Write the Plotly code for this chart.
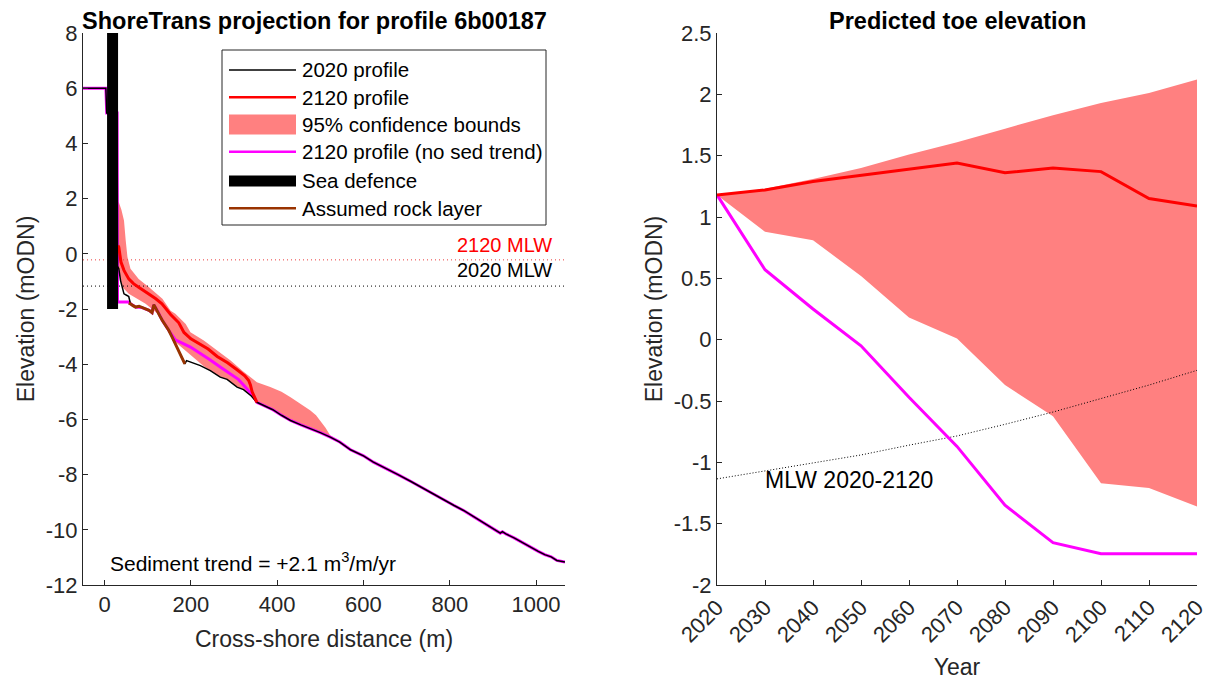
import plotly.graph_objects as go

# ---------------- Left panel data (cross-shore distance m, elevation mODN) ----------------
profile2020_x = [-50, -20, 0, 3, 5, 15, 29, 30, 33, 37, 42, 45, 52, 56, 60, 66, 72, 80, 87, 95, 103, 110,
                 114, 118, 122, 128, 134, 142, 149, 156, 164, 172, 180, 186, 190, 200, 207, 222, 245, 268,
                 284, 307, 322, 340, 353, 370, 390, 410, 431, 455, 480, 500, 523, 545, 570, 600, 623, 650,
                 680, 710, 739, 765, 790, 810, 832, 855, 875, 900, 917, 922, 930, 950, 970, 986, 1005,
                 1020, 1035, 1048, 1060, 1067]
profile2020_z = [6.0, 6.0, 6.0, 6.0, 5.1, 5.1, 5.1, -0.45, -0.54, -0.97, -1.3, -1.45, -1.51, -1.55, -1.81,
                 -1.88, -1.93, -1.9, -1.95, -2.0, -2.05, -2.13, -1.85, -1.95, -2.05, -2.25, -2.42, -2.6,
                 -2.78, -3.0, -3.25, -3.5, -3.78, -3.99, -3.87, -3.92, -3.96, -4.05, -4.23, -4.47, -4.55,
                 -4.83, -4.92, -5.15, -5.38, -5.5, -5.65, -5.85, -6.04, -6.2, -6.35, -6.48, -6.64, -6.82,
                 -7.1, -7.32, -7.55, -7.75, -8.0, -8.25, -8.51, -8.72, -8.95, -9.12, -9.3, -9.52, -9.7,
                 -9.95, -10.12, -10.07, -10.15, -10.3, -10.48, -10.63, -10.78, -10.9, -10.98, -11.11,
                 -11.15, -11.17]

profile2120_x = [31, 33, 38, 45, 56, 67, 79, 91, 103, 118, 133, 153, 172, 184, 200, 215, 240, 261, 285,
                 307, 325, 334, 338, 342, 348, 353]
profile2120_z = [0.3, 0.24, -0.3, -0.6, -0.91, -1.08, -1.21, -1.33, -1.45, -1.62, -1.81, -2.2, -2.5,
                 -2.85, -3.08, -3.22, -3.45, -3.72, -3.95, -4.2, -4.42, -4.59, -4.75, -5.0, -5.2, -5.38]

nosed_x = [-50, -20, 0, 3, 5, 15, 29, 30, 56, 60, 72, 87, 103, 110, 114, 122, 134, 149, 156, 164, 199,
           222, 245, 268, 292, 310, 322, 335, 346, 353, 370, 390, 410, 431, 455, 480, 500, 523, 545, 570,
           600, 623, 650, 680, 710, 739, 765, 790, 810, 832, 855, 875, 900, 917, 922, 930, 950, 970, 986,
           1005, 1020, 1035, 1048, 1060, 1067]
nosed_z = [6.0, 6.0, 6.0, 6.0, 5.1, 5.1, 5.1, -1.75, -1.75, -1.81, -1.93, -1.95, -2.05, -2.13, -1.85,
           -2.05, -2.42, -2.78, -2.95, -3.12, -3.38, -3.6, -3.85, -4.1, -4.35, -4.55, -4.75, -4.98, -5.18,
           -5.38, -5.5, -5.65, -5.85, -6.04, -6.2, -6.35, -6.48, -6.64, -6.82, -7.1, -7.32, -7.55, -7.75,
           -8.0, -8.25, -8.51, -8.72, -8.95, -9.12, -9.3, -9.52, -9.7, -9.95, -10.12, -10.07, -10.15,
           -10.3, -10.48, -10.63, -10.78, -10.9, -10.98, -11.11, -11.15, -11.17]

bound_upper_x = [31, 33, 39, 45, 49, 53, 60, 79, 103, 134, 153, 164, 188, 199, 230, 260, 292, 320, 353,
                 384, 410, 431, 455, 477, 490, 500, 512, 523, 530]
bound_upper_z = [1.87, 1.87, 1.6, 1.21, 0.48, -0.12, -0.54, -0.91, -1.21, -1.63, -2.06, -2.17, -2.54,
                 -2.84, -3.14, -3.5, -3.87, -4.25, -4.65, -4.83, -5.0, -5.2, -5.45, -5.68, -5.85, -6.04,
                 -6.3, -6.58, -6.65]
bound_lower_x = [31, 41, 56, 95, 133, 153, 164, 230, 245, 268, 284, 307, 322, 340, 353, 370, 390, 410,
                 431, 455, 480, 500, 523, 530]
bound_lower_z = [-0.5, -1.2, -1.45, -1.81, -2.3, -2.85, -3.2, -4.07, -4.23, -4.47, -4.55, -4.83, -4.92,
                 -5.15, -5.38, -5.5, -5.65, -5.85, -6.04, -6.2, -6.35, -6.48, -6.64, -6.65]

rock_x = [56, 60, 66, 72, 80, 87, 95, 103, 110, 114, 118, 122, 128, 134, 142, 149, 156, 164, 172, 180, 186]
rock_z = [-1.79, -1.81, -1.88, -1.93, -1.9, -1.95, -2.0, -2.05, -2.13, -1.85, -1.95, -2.05, -2.25, -2.42,
          -2.6, -2.78, -3.0, -3.25, -3.5, -3.78, -3.99]

seadefence_x = [18.5, 18.5]
seadefence_z = [-2, 8]

mlw_2020 = -1.17
mlw_2120 = -0.22
left_xrange = [-50, 1067]

left_xticks = [0, 200, 400, 600, 800, 1000]
left_yticks = [-12, -10, -8, -6, -4, -2, 0, 2, 4, 6, 8]
left_yticklabels = ["-12", "-10", "-8", "-6", "-4", "-2", "0", "2", "4", "6", "8"]

legend_labels = ["2020 profile", "2120 profile", "95% confidence bounds",
                 "2120 profile (no sed trend)", "Sea defence", "Assumed rock layer"]

# ---------------- Right panel data (year, toe elevation mODN) ----------------
years = [2020, 2030, 2040, 2050, 2060, 2070, 2080, 2090, 2100, 2110, 2120]
toe_2120 = [1.18, 1.22, 1.29, 1.34, 1.39, 1.44, 1.36, 1.40, 1.37, 1.15, 1.09]
toe_upper = [1.18, 1.23, 1.31, 1.40, 1.51, 1.61, 1.72, 1.83, 1.93, 2.01, 2.12]
toe_lower = [1.18, 0.88, 0.81, 0.52, 0.18, 0.01, -0.37, -0.625, -1.17, -1.21, -1.36]
toe_nosed = [1.18, 0.57, 0.25, -0.05, -0.47, -0.87, -1.35, -1.655, -1.745, -1.745, -1.745]
mlw_years = [-1.135, -1.07, -1.01, -0.94, -0.86, -0.785, -0.69, -0.59, -0.48, -0.37, -0.25]

right_xticklabels = [str(y) for y in years]
right_yticks = [-2, -1.5, -1, -0.5, 0, 0.5, 1, 1.5, 2, 2.5]
right_yticklabels = ["-2", "-1.5", "-1", "-0.5", "0", "0.5", "1", "1.5", "2", "2.5"]

# ---------------- Styles / layout geometry ----------------
FONT = "Liberation Sans, Arial, Helvetica, sans-serif"
AX = "#262626"
PINK = "rgb(255,128,128)"
RED = "rgb(255,0,0)"
MAG = "rgb(255,0,255)"
BROWN = "rgb(153,51,0)"

W, H = 1205, 673
ML, MR, MT, MB = 75, 16, 25, 96
PW, PH = W - ML - MR, H - MT - MB
OFF = 8  # page offset of the figure inside the browser window


def px(sx):
    return (sx - OFF - ML) / PW


def py(sy):
    return (H - MB - (sy - OFF)) / PH


fig = go.Figure()

# Left panel
fig.add_trace(go.Scatter(
    x=bound_upper_x + bound_lower_x[::-1], y=bound_upper_z + bound_lower_z[::-1],
    fill="toself", fillcolor=PINK, mode="lines", line=dict(width=0, color=PINK),
    name=legend_labels[2], xaxis="x", yaxis="y"))
fig.add_trace(go.Scatter(
    x=left_xrange, y=[mlw_2120, mlw_2120], mode="lines",
    line=dict(color="rgb(235,60,60)", width=1, dash="1px,3px"), name="2120 MLW",
    xaxis="x", yaxis="y"))
fig.add_trace(go.Scatter(
    x=left_xrange, y=[mlw_2020, mlw_2020], mode="lines",
    line=dict(color="black", width=1, dash="1px,3px"), name="2020 MLW",
    xaxis="x", yaxis="y"))
fig.add_trace(go.Scatter(
    x=nosed_x, y=nosed_z, mode="lines", line=dict(color=MAG, width=3),
    name=legend_labels[3], xaxis="x", yaxis="y"))
fig.add_trace(go.Scatter(
    x=profile2020_x, y=profile2020_z, mode="lines", line=dict(color="black", width=1.5),
    name=legend_labels[0], xaxis="x", yaxis="y"))
fig.add_trace(go.Scatter(
    x=profile2120_x, y=profile2120_z, mode="lines", line=dict(color=RED, width=3),
    name=legend_labels[1], xaxis="x", yaxis="y"))
fig.add_trace(go.Scatter(
    x=rock_x, y=rock_z, mode="lines", line=dict(color=BROWN, width=3),
    name=legend_labels[5], xaxis="x", yaxis="y"))
fig.add_trace(go.Scatter(
    x=seadefence_x, y=seadefence_z, mode="lines", line=dict(color="black", width=11),
    name=legend_labels[4], xaxis="x", yaxis="y"))

# Right panel
fig.add_trace(go.Scatter(
    x=years + years[::-1], y=toe_upper + toe_lower[::-1], fill="toself", fillcolor=PINK,
    mode="lines", line=dict(width=0, color=PINK), name="95% bounds", xaxis="x2", yaxis="y2"))
fig.add_trace(go.Scatter(
    x=years, y=mlw_years, mode="lines", line=dict(color="black", width=1, dash="1px,2px"),
    name="MLW 2020-2120", xaxis="x2", yaxis="y2"))
fig.add_trace(go.Scatter(
    x=years, y=toe_nosed, mode="lines", line=dict(color=MAG, width=3),
    name="Toe (no sed trend)", xaxis="x2", yaxis="y2"))
fig.add_trace(go.Scatter(
    x=years, y=toe_2120, mode="lines", line=dict(color=RED, width=3),
    name="Toe", xaxis="x2", yaxis="y2"))

# ---------------- Legend box (drawn like the MATLAB legend) ----------------
shapes = [dict(type="rect", xref="paper", yref="paper", x0=px(222), x1=px(546), y0=py(225), y1=py(50),
               line=dict(color=AX, width=1), fillcolor="white", layer="above")]
row_y = [70, 97.3, 124.5, 151.7, 181, 208.3]
sample_style = [
    dict(kind="line", color="black", width=1.4),
    dict(kind="line", color=RED, width=2.5),
    dict(kind="rect", color=PINK, h=20),
    dict(kind="line", color=MAG, width=2.5),
    dict(kind="rect", color="black", h=11),
    dict(kind="line", color=BROWN, width=2.5),
]
legend_annotations = []
for lab, ry, st in zip(legend_labels, row_y, sample_style):
    if st["kind"] == "line":
        shapes.append(dict(type="line", xref="paper", yref="paper", x0=px(229), x1=px(296),
                           y0=py(ry), y1=py(ry), line=dict(color=st["color"], width=st["width"]),
                           layer="above"))
    else:
        shapes.append(dict(type="rect", xref="paper", yref="paper", x0=px(229), x1=px(296),
                           y0=py(ry + st["h"] / 2), y1=py(ry - st["h"] / 2),
                           line=dict(width=0), fillcolor=st["color"], layer="above"))
    legend_annotations.append(dict(text=lab, xref="paper", yref="paper", x=px(300), y=py(ry),
                                   xanchor="left", yanchor="middle", showarrow=False,
                                   font=dict(family=FONT, size=20.5, color="black")))

axis_common = dict(showline=True, linecolor=AX, linewidth=1, ticks="inside", ticklen=5,
                   tickcolor=AX, showgrid=False, zeroline=False, automargin=False,
                   tickfont=dict(family=FONT, size=22, color=AX))

fig.update_layout(
    width=W, height=H,
    margin=dict(l=ML, r=MR, t=MT, b=MB, autoexpand=False),
    paper_bgcolor="white", plot_bgcolor="white",
    font=dict(family=FONT, color=AX),
    showlegend=False,
    xaxis=dict(domain=[0, px(565)], range=left_xrange, tickvals=left_xticks, anchor="y",
               title=dict(text="Cross-shore distance (m)", font=dict(size=23, color=AX), standoff=14),
               **axis_common),
    yaxis=dict(domain=[0, 1], range=[-12, 8], tickvals=left_yticks, ticktext=left_yticklabels,
               anchor="x",
               title=dict(text="Elevation (mODN)", font=dict(size=23, color=AX), standoff=4),
               **axis_common),
    xaxis2=dict(domain=[px(717), 1], range=[2020, 2120], tickvals=years, ticktext=right_xticklabels,
                tickangle=-45, anchor="y2",
                title=dict(text="Year", font=dict(size=23, color=AX), standoff=12),
                **axis_common),
    yaxis2=dict(domain=[0, 1], range=[-2, 2.5], tickvals=right_yticks, ticktext=right_yticklabels,
                anchor="x2",
                title=dict(text="Elevation (mODN)", font=dict(size=23, color=AX), standoff=4),
                **axis_common),
    shapes=shapes,
    annotations=[
        dict(text="<b>ShoreTrans projection for profile 6b00187</b>", xref="paper", yref="paper",
             x=px(314), y=py(21), xanchor="center", yanchor="middle", showarrow=False,
             font=dict(family=FONT, size=23.5, color="black")),
        dict(text="<b>Predicted toe elevation</b>", xref="paper", yref="paper",
             x=px(957), y=py(21), xanchor="center", yanchor="middle", showarrow=False,
             font=dict(family=FONT, size=23.5, color="black")),
        dict(text="2120 MLW", xref="x", yref="y", x=1042, y=mlw_2120, xanchor="right",
             yanchor="bottom", yshift=2, showarrow=False, font=dict(family=FONT, size=20, color="red")),
        dict(text="2020 MLW", xref="x", yref="y", x=1042, y=mlw_2020, xanchor="right",
             yanchor="bottom", yshift=3, showarrow=False, font=dict(family=FONT, size=20, color="black")),
        dict(text="Sediment trend = +2.1 m<sup>3</sup>/m/yr", xref="x", yref="y", x=7, y=-11.18,
             xanchor="left", yanchor="middle", showarrow=False,
             font=dict(family=FONT, size=21, color="black")),
        dict(text="MLW 2020-2120", xref="x2", yref="y2", x=2029.6, y=-1.14, xanchor="left",
             yanchor="middle", showarrow=False, font=dict(family=FONT, size=23, color="black")),
    ] + legend_annotations,
)

fig.write_html("out.html")
